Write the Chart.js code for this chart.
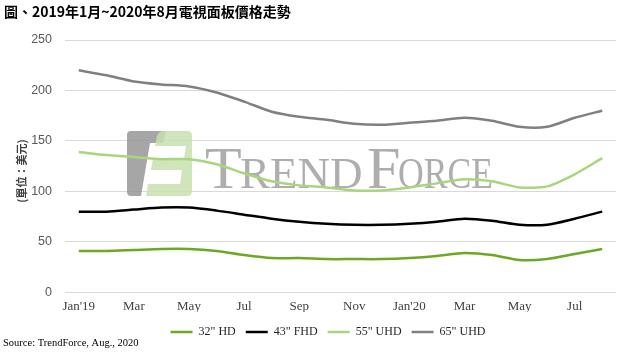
<!DOCTYPE html>
<html>
<head>
<meta charset="utf-8">
<script src="https://cdn.jsdelivr.net/npm/chart.js@4/dist/chart.umd.min.js"></script>
<style>
  html, body { margin: 0; padding: 0; background: #ffffff; }
  #wrap { width: 628px; height: 358px; position: relative; }
</style>
</head>
<body>
<div id="wrap"><canvas id="c" width="628" height="358"></canvas></div>
<script>
const titleText = "圖、2019年1月~2020年8月電視面板價格走勢";
const yAxisTitle = "(單位：美元)";
const sourceText = "Source: TrendForce, Aug., 2020";

const months = ["Jan'19","Feb","Mar","Apr","May","Jun","Jul","Aug","Sep","Oct","Nov","Dec",
                "Jan'20","Feb","Mar","Apr","May","Jun","Jul","Aug"];
const tickLabels = ["Jan'19","","Mar","","May","","Jul","","Sep","","Nov","",
                    "Jan'20","","Mar","","May","","Jul",""];
const yTicks = [0, 50, 100, 150, 200, 250];

const seriesNames = ["32\" HD", "43\" FHD", "55\" UHD", "65\" UHD"];
const hd32  = [41,41,42,43,43,41,37,34,34,33,33,33,34,36,39,37,32,33,38,43];
const fhd43 = [80,80,82,84,84,81,77,73,70,68,67,67,68,70,73,71,67,67,73,80];
const uhd55 = [139,136,134,132,132,127,118,110,106,104,101,101,104,108,112,110,104,105,117,133];
const uhd65 = [220,215,209,206,204,198,189,179,174,171,167,166,168,170,173,170,164,164,173,180];

const colors = ["#6ea823", "#000000", "#a9d67c", "#808080"];

function ds(label, data, color) {
  return {
    label, data,
    borderColor: color, backgroundColor: color,
    borderWidth: 2.5, pointRadius: 0, pointHoverRadius: 0,
    tension: 0.25, fill: false
  };
}

const decor = {
  id: 'decor',
  beforeDatasetsDraw(chart) {
    const ctx = chart.ctx;
    ctx.save();
    // watermark logo
    ctx.fillStyle = 'rgba(150,150,150,0.85)';
    ctx.beginPath();
    ctx.moveTo(131, 131); ctx.lineTo(166, 131); ctx.lineTo(163, 143);
    ctx.lineTo(150, 143); ctx.lineTo(141, 196); ctx.lineTo(131, 196);
    ctx.quadraticCurveTo(127, 196, 127, 192); ctx.lineTo(127, 135);
    ctx.quadraticCurveTo(127, 131, 131, 131);
    ctx.fill();
    ctx.fillStyle = 'rgba(200,225,175,0.85)';
    ctx.beginPath();
    ctx.moveTo(170, 131); ctx.lineTo(187, 131); ctx.quadraticCurveTo(192, 131, 192, 136);
    ctx.lineTo(192, 191); ctx.quadraticCurveTo(192, 196, 187, 196);
    ctx.lineTo(146, 196); ctx.lineTo(148, 184); ctx.lineTo(180, 184);
    ctx.lineTo(182, 170); ctx.lineTo(151, 170); ctx.lineTo(153, 158);
    ctx.lineTo(184, 158); ctx.lineTo(186, 146); ctx.lineTo(155, 146);
    ctx.lineTo(157, 136); ctx.quadraticCurveTo(159, 131, 164, 131);
    ctx.closePath();
    ctx.fill();
    // watermark text
    ctx.fillStyle = 'rgba(165,165,165,0.9)';
    ctx.textBaseline = 'alphabetic';
    ctx.textAlign = 'left';
    ctx.font = '60px "Liberation Serif"';
    ctx.fillText('T', 205, 188);
    ctx.fillText('F', 367, 188);
    ctx.font = '45px "Liberation Serif"';
    ctx.fillText('REND', 240, 188, 125);
    ctx.fillText('ORCE', 398, 188, 95);
    ctx.restore();
  },
  afterDraw(chart) {
    const ctx = chart.ctx;
    ctx.save();
    ctx.fillStyle = '#000000';
    ctx.textAlign = 'left';
    ctx.textBaseline = 'middle';
    ctx.font = 'bold 14px "Noto Sans CJK TC"';
    ctx.fillText(titleText, 4, 12);
    ctx.font = '10.5px "Liberation Serif"';
    ctx.fillText(sourceText, 3, 343);
    ctx.translate(22, 171);
    ctx.rotate(-Math.PI / 2);
    ctx.textAlign = 'center';
    ctx.fillStyle = '#404040';
    ctx.font = 'bold 11px "Noto Sans CJK TC"';
    ctx.fillText(yAxisTitle, 0, 0);
    ctx.restore();
  },
  afterLayout(chart) {
    const l = chart.legend;
    if (l) { l.left += 20; l.right += 20; l.top += 4; l.bottom += 4; }
  }
};

new Chart(document.getElementById('c'), {
  type: 'line',
  data: {
    labels: months,
    datasets: [
      ds(seriesNames[0], hd32, colors[0]),
      ds(seriesNames[1], fhd43, colors[1]),
      ds(seriesNames[2], uhd55, colors[2]),
      ds(seriesNames[3], uhd65, colors[3])
    ]
  },
  options: {
    responsive: false,
    animation: false,
    devicePixelRatio: 1,
    layout: { padding: { top: 40, right: 12, left: 0, bottom: 14 } },
    plugins: {
      legend: {
        position: 'bottom',
        labels: {
          usePointStyle: true, pointStyle: 'line', pointStyleWidth: 22,
          boxHeight: 12, padding: 10,
          color: '#262626',
          font: { family: '"Liberation Serif"', size: 12 }
        }
      },
      tooltip: { enabled: false },
      title: { display: false }
    },
    scales: {
      x: {
        offset: true,
        grid: { display: false },
        border: { display: false },
        ticks: {
          autoSkip: false, maxRotation: 0, minRotation: 0,
          padding: -2,
          color: '#404040',
          font: { family: '"Liberation Serif"', size: 13 },
          callback: (v, i) => tickLabels[i]
        }
      },
      y: {
        min: 0, max: 250,
        afterBuildTicks: (s) => { s.ticks = yTicks.map(v => ({ value: v })); },
        afterFit: (s) => { s.width = 65; },
        grid: { color: '#d9d9d9', drawTicks: false, lineWidth: 1 },
        border: { display: false },
        ticks: {
          padding: 13,
          color: '#595959',
          font: { family: '"Liberation Sans"', size: 12.5 }
        }
      }
    }
  },
  plugins: [decor]
});
</script>
</body>
</html>
